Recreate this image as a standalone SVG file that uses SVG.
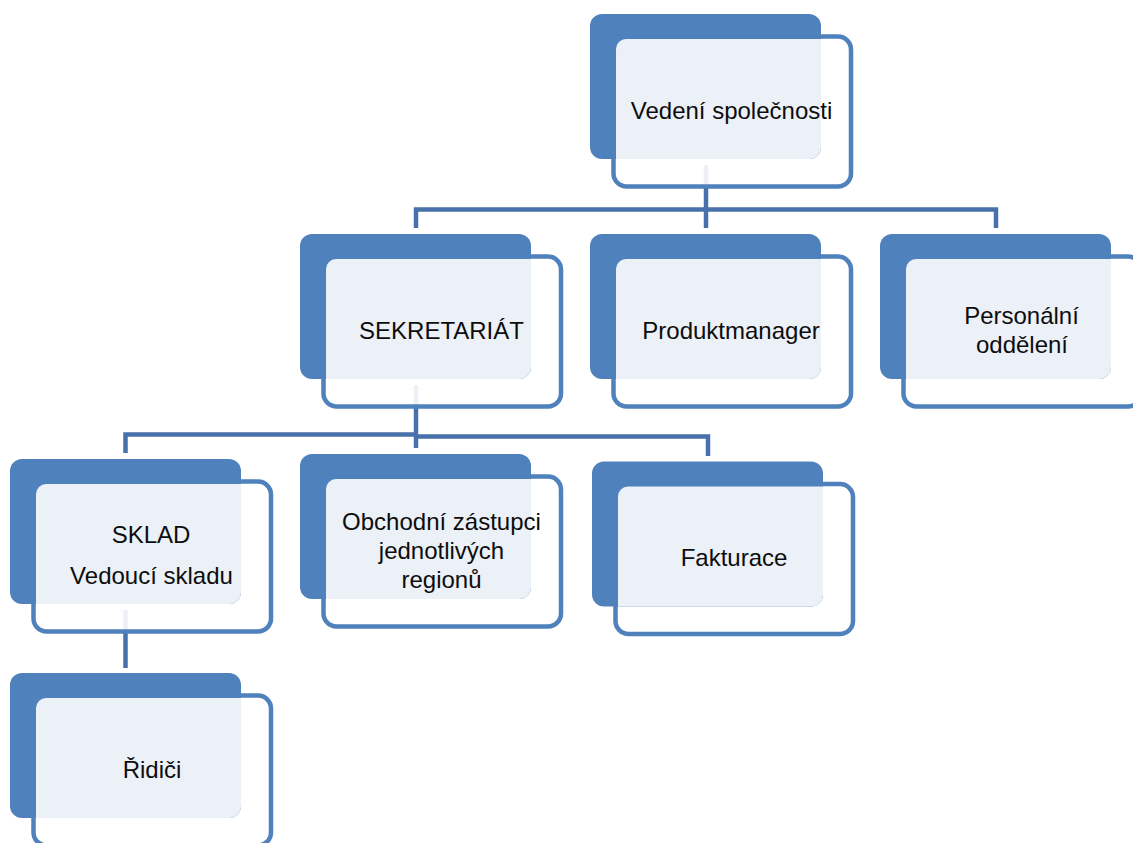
<svg xmlns="http://www.w3.org/2000/svg" width="1133" height="843" viewBox="0 0 1133 843">
  <defs>
    <style>
      .conn { fill: none; stroke: #4870AA; stroke-width: 4.5; stroke-linejoin: miter; stroke-linecap: butt; }
      .frame { fill: #FFFFFF; fill-opacity: 0.9; stroke: #4F81BD; stroke-width: 4.5; }
      .back { fill: #4F81BD; }
      .tint { fill: #ECF0F7; }
      .label { font-family: "Liberation Sans", Arial, sans-serif; font-size: 24px; fill: #0D0D0D; text-anchor: middle; }
    </style>
    <!-- one org-chart box: outlined front card over a solid back card -->
    <g id="card">
      <rect class="frame" x="23.5" y="22.5" width="237.5" height="150" rx="13" ry="13"/>
      <rect class="back" x="0" y="0" width="231" height="145" rx="12" ry="12"/>
      <path class="tint" d="M36,25 H231 V133 A12,12 0 0 1 219,145 H26 V35 A10,10 0 0 1 36,25 Z"/>
    </g>
  </defs>

  <rect width="1133" height="843" fill="#FFFFFF"/>

  <!-- connectors -->
  <g id="connectors">
    <path class="conn" d="M706,165 V228"/>
    <path class="conn" d="M416,228 V209.5 H996 V228"/>
    <path class="conn" d="M416,385 V448"/>
    <path class="conn" d="M125.5,453 V434.5 H416"/>
    <path class="conn" d="M416,436.5 H708 V456"/>
    <path class="conn" d="M125.5,610 V668"/>
  </g>

  <g id="node-vedeni" transform="translate(590,14)">
    <use href="#card"/>
    <text class="label" x="141.5" y="105">Vedení společnosti</text>
  </g>

  <g id="node-sekretariat" transform="translate(300,234)">
    <use href="#card"/>
    <text class="label" x="141.5" y="105">SEKRETARIÁT</text>
  </g>

  <g id="node-produktmanager" transform="translate(590,234)">
    <use href="#card"/>
    <text class="label" x="141" y="105">Produktmanager</text>
  </g>

  <g id="node-personalni" transform="translate(880,234)">
    <use href="#card"/>
    <text class="label" x="141.5" y="90">Personální</text>
    <text class="label" x="142" y="119">oddělení</text>
  </g>

  <g id="node-sklad" transform="translate(10,459)">
    <use href="#card"/>
    <text class="label" x="141" y="84">SKLAD</text>
    <text class="label" x="141.5" y="125">Vedoucí skladu</text>
  </g>

  <g id="node-obchodni" transform="translate(300,454)">
    <use href="#card"/>
    <text class="label" x="141.5" y="76">Obchodní zástupci</text>
    <text class="label" x="141.5" y="105">jednotlivých</text>
    <text class="label" x="141.5" y="134">regionů</text>
  </g>

  <g id="node-fakturace" transform="translate(592,461.5)">
    <use href="#card"/>
    <text class="label" x="142" y="104.5">Fakturace</text>
  </g>

  <g id="node-ridici" transform="translate(10,673)">
    <use href="#card"/>
    <text class="label" x="142" y="104.7">Řidiči</text>
  </g>
</svg>
